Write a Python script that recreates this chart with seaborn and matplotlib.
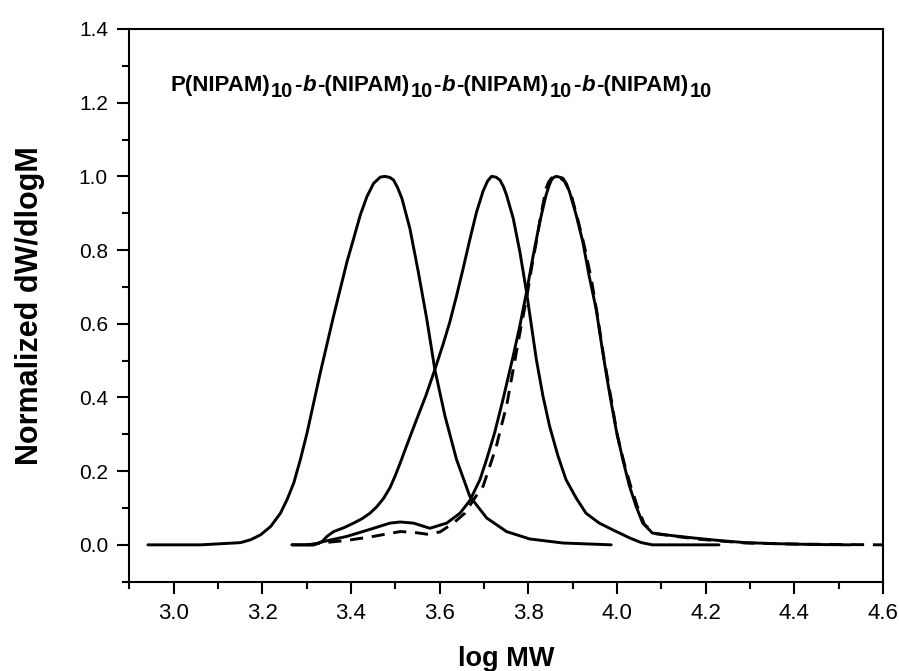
import matplotlib
matplotlib.use('Agg')
from matplotlib import pyplot as plt
from matplotlib import transforms
from matplotlib.ticker import MultipleLocator
import seaborn as sns

# GPC traces
a_x = [2.942, 3.061, 3.151, 3.174, 3.196, 3.219, 3.241, 3.256, 3.271, 3.286, 3.301, 3.316,
       3.331, 3.346, 3.361, 3.376, 3.391, 3.406, 3.421, 3.436, 3.451, 3.466, 3.477, 3.488,
       3.496, 3.505, 3.515, 3.533, 3.552, 3.571, 3.589, 3.612, 3.638, 3.668, 3.706, 3.751,
       3.803, 3.878, 3.987]
a_y = [0.000, 0.000, 0.006, 0.014, 0.027, 0.050, 0.086, 0.123, 0.168, 0.232, 0.304, 0.386,
       0.468, 0.545, 0.622, 0.695, 0.768, 0.831, 0.895, 0.945, 0.981, 0.998, 1.000, 0.997,
       0.990, 0.970, 0.940, 0.858, 0.740, 0.613, 0.477, 0.350, 0.232, 0.132, 0.073, 0.036,
       0.016, 0.005, 0.000]

b_x = [3.267, 3.316, 3.335, 3.346, 3.361, 3.385, 3.406, 3.425, 3.443, 3.458, 3.473, 3.488,
       3.500, 3.511, 3.529, 3.548, 3.569, 3.589, 3.608, 3.623, 3.638, 3.653, 3.668, 3.683,
       3.698, 3.708, 3.717, 3.727, 3.736, 3.744, 3.751, 3.766, 3.781, 3.796, 3.807, 3.818,
       3.833, 3.848, 3.867, 3.885, 3.908, 3.930, 3.960, 3.990, 4.030, 4.055, 4.080, 4.230]
b_y = [0.000, 0.000, 0.009, 0.023, 0.036, 0.047, 0.059, 0.071, 0.086, 0.103, 0.125, 0.155,
       0.188, 0.222, 0.280, 0.340, 0.405, 0.475, 0.545, 0.605, 0.675, 0.750, 0.828, 0.902,
       0.960, 0.987, 1.000, 0.998, 0.990, 0.972, 0.949, 0.886, 0.795, 0.686, 0.595, 0.504,
       0.404, 0.322, 0.241, 0.177, 0.127, 0.086, 0.059, 0.041, 0.018, 0.006, 0.000, 0.000]

c_x = [3.267, 3.316, 3.338, 3.391, 3.451, 3.488, 3.511, 3.541, 3.578, 3.616, 3.646, 3.668,
       3.691, 3.706, 3.724, 3.743, 3.766, 3.781, 3.796, 3.811, 3.826, 3.840, 3.846, 3.852,
       3.857, 3.863, 3.870, 3.878, 3.886, 3.893, 3.908, 3.923, 3.937, 3.953, 3.968, 3.983,
       3.998, 4.013, 4.028, 4.043, 4.058, 4.080, 4.125, 4.178, 4.237, 4.290, 4.365, 4.440,
       4.527]
c_y = [0.000, 0.000, 0.009, 0.023, 0.045, 0.059, 0.062, 0.059, 0.045, 0.059, 0.086, 0.120,
       0.177, 0.232, 0.304, 0.395, 0.513, 0.595, 0.686, 0.785, 0.877, 0.949, 0.972, 0.990,
       0.997, 1.000, 0.998, 0.995, 0.980, 0.958, 0.895, 0.822, 0.731, 0.640, 0.522, 0.413,
       0.313, 0.232, 0.160, 0.105, 0.059, 0.032, 0.025, 0.018, 0.011, 0.006, 0.003, 0.001,
       0.000]

d_x = [3.300, 3.331, 3.391, 3.451, 3.511, 3.541, 3.571, 3.601, 3.631, 3.657, 3.683, 3.698,
       3.713, 3.728, 3.739, 3.751, 3.762, 3.773, 3.784, 3.796, 3.807, 3.818, 3.829, 3.840,
       3.846, 3.852, 3.857, 3.863, 3.872, 3.882, 3.897, 3.911, 3.926, 3.942, 3.956, 3.971,
       3.987, 4.001, 4.016, 4.031, 4.046, 4.062, 4.088, 4.178, 4.290, 4.402, 4.600]
d_y = [0.000, 0.005, 0.012, 0.023, 0.036, 0.034, 0.029, 0.035, 0.059, 0.086, 0.134, 0.159,
       0.213, 0.268, 0.322, 0.377, 0.450, 0.522, 0.595, 0.668, 0.749, 0.822, 0.899, 0.967,
       0.985, 0.995, 0.999, 1.000, 0.996, 0.986, 0.949, 0.886, 0.813, 0.722, 0.622, 0.504,
       0.395, 0.295, 0.223, 0.159, 0.104, 0.055, 0.030, 0.016, 0.005, 0.002, 0.000]

# sample name: (text, kind)
label_parts = [('P(NIPAM)', 'main'), ('10', 'sub'), ('-', 'main'), ('b', 'ital'),
               ('-(NIPAM)', 'main'), ('10', 'sub'), ('-', 'main'), ('b', 'ital'),
               ('-(NIPAM)', 'main'), ('10', 'sub'), ('-', 'main'), ('b', 'ital'),
               ('-(NIPAM)', 'main'), ('10', 'sub')]

sns.set_style('ticks')
plt.rcParams['font.family'] = ['Liberation Sans', 'DejaVu Sans']
for key in ['text.color', 'axes.labelcolor', 'xtick.color', 'ytick.color', 'axes.edgecolor']:
    plt.rcParams[key] = 'black'

fig = plt.figure(figsize=(8.99, 6.71), dpi=100)
ax = fig.add_axes([0.1438, 0.1331, 0.8384, 0.8237])

for xs, ys in [(a_x, a_y), (b_x, b_y), (c_x, c_y)]:
    sns.lineplot(x=xs, y=ys, ax=ax, color='black', linewidth=2.1,
                 estimator=None, sort=False, solid_joinstyle='round')
sns.lineplot(x=d_x, y=d_y, ax=ax, color='black', linewidth=2.1,
             estimator=None, sort=False, linestyle=(0, (4.5, 3)))

ax.set_xlim(2.9, 4.6)
ax.set_ylim(-0.1, 1.4)
ax.xaxis.set_major_locator(MultipleLocator(0.2))
ax.xaxis.set_minor_locator(MultipleLocator(0.1))
ax.yaxis.set_major_locator(MultipleLocator(0.2))
ax.yaxis.set_minor_locator(MultipleLocator(0.1))
ax.tick_params(which='major', direction='out', length=8.4, width=1.5, pad=7)
ax.tick_params(which='minor', direction='out', length=4.8, width=1.5)
ax.tick_params(axis='x', labelsize=16)
ax.tick_params(axis='y', labelsize=15)
for sp in ax.spines.values():
    sp.set_linewidth(1.5)
    sp.set_color('black')

ax.set_xlabel('log MW', fontsize=19.5, fontweight='bold', labelpad=16)
ax.set_ylabel('Normalized dW/dlogM', fontsize=22, fontweight='bold', labelpad=24)

# sample name written piece by piece so the subscripts stay near full size
renderer = fig.canvas.get_renderer()
xoff = 0.0
for s, kind in label_parts:
    size = 14.5 if kind == 'sub' else 16
    dy = -6 if kind == 'sub' else 0
    style = 'italic' if kind == 'ital' else 'normal'
    tr = transforms.offset_copy(ax.transData, fig=fig, x=xoff, y=dy, units='dots')
    t = ax.text(2.992, 1.232, s, transform=tr, fontsize=size, fontweight='bold',
                fontstyle=style, va='baseline', ha='left')
    xoff += t.get_window_extent(renderer).width + 1

fig.savefig('out.png', dpi=100)
